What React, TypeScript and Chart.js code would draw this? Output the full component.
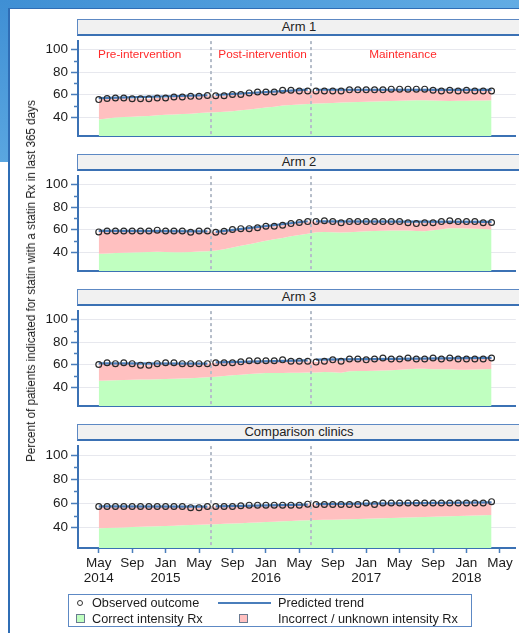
import React, { useEffect, useRef } from 'react';
import { Chart, registerables } from 'chart.js';

Chart.register(...registerables);

const FONT = "'Liberation Sans', Arial, Helvetica, sans-serif";
const NARROW_FONT = "'Liberation Sans Narrow', 'Arial Narrow', 'Liberation Sans', Arial, sans-serif";

// ---------- data ----------
const PANEL_TITLES = ['Arm 1', 'Arm 2', 'Arm 3', 'Comparison clinics'];

const X_TICKS = [0, 4, 8, 12, 16, 20, 24, 28, 32, 36, 40, 44, 48];
const X_TICK_LABELS = [
  ['May', '2014'], ['Sep'], ['Jan', '2015'], ['May'], ['Sep'], ['Jan', '2016'],
  ['May'], ['Sep'], ['Jan', '2017'], ['May'], ['Sep'], ['Jan', '2018'], ['May'],
];
const Y_TICKS = [40, 60, 80, 100];
const Y_MINOR_TICKS = [50, 70, 90];
const PHASE_BOUNDARIES = [13.4, 25.4];
const PHASE_LABELS = ['Pre-intervention', 'Post-intervention', 'Maintenance'];
const PHASE_LABEL_X = [4.9, 19.6, 36.4];
const SEGMENTS = [[0, 13], [14, 25], [26, 47]];

const ARM1_OBSERVED = [
  55.5, 56.5, 57, 57, 56.3, 56.3, 56.3, 57, 57, 57.8, 57.8, 58.4, 58.4, 59.2,
  59, 59, 60, 60, 61.5, 62.3, 62.3, 62.3, 63.8, 63.8, 63.2, 63.2,
  63.2, 63.2, 63.2, 63.2, 64.2, 64.2, 64.2, 64.2, 64.2, 64.8, 64.8, 64.8, 64.8, 64.8,
  63.8, 63.2, 63.8, 63.2, 63.8, 63.2, 63.2, 63.2,
];
const ARM1_CORRECT = [
  37.9, 38.8, 39.5, 40, 40.3, 40.6, 41, 41.5, 42, 42.3, 42.6, 43, 43.5, 44,
  44.2, 44.6, 45.2, 46, 46.8, 47.6, 48.4, 49.2, 50.2, 50.8, 51.2, 51.6,
  52, 52.3, 52.6, 52.9, 53.2, 53.4, 53.6, 53.8, 54, 54.3, 54.5, 54.8, 55, 55,
  54.8, 54.5, 54.3, 54.5, 54.6, 54.8, 54.8, 55,
];
const ARM1_TREND = [[56.8, 59.4], [59.6, 64.4], [64.3, 64.2]];

const ARM2_OBSERVED = [
  57.9, 58.7, 58.7, 58.7, 58.7, 58.7, 58.7, 59.5, 58.7, 58.7, 58.7, 57.6, 58.7, 58.7,
  57.6, 58.4, 60, 60.8, 60.8, 61.6, 62.9, 62.9, 63.9, 65.3, 66.3, 67.1,
  67.1, 67.9, 67.1, 66.1, 67.1, 67.1, 67.1, 67.1, 67.1, 67.1, 67.1, 66.1, 65.3, 66.1,
  66.1, 67.1, 67.9, 67.1, 67.1, 67.1, 66.1, 66.3,
];
const ARM2_CORRECT = [
  38.4, 38.8, 39.1, 39.3, 39.6, 39.8, 40, 40.3, 40, 39.8, 39.7, 40.1, 40.5, 40.8,
  41.3, 42.5, 44, 45.5, 47, 48.5, 50, 51.3, 52.6, 54, 55.2, 56.2,
  57.5, 57.9, 57.5, 57.3, 57.7, 58.1, 58.5, 58.7, 59, 59.1, 59.2, 59.2, 58.8, 58.6,
  59.4, 60.2, 61.2, 61.2, 61, 60.8, 60.5, 60,
];
const ARM2_TREND = [[58.8, 58.4], [58.0, 67.4], [67.3, 66.9]];

const ARM3_OBSERVED = [
  60, 61.6, 60.8, 61.6, 60.8, 59.5, 59.5, 60.8, 61.6, 61.6, 60.8, 60.8, 60.8, 60.8,
  61.6, 61.6, 61.6, 62.4, 63.4, 63.4, 63.4, 63.4, 64.2, 63, 63, 63,
  62.2, 63, 64.2, 63, 65, 65, 64.2, 65, 65.8, 65, 65, 65.8, 65, 65,
  65.8, 65, 65.8, 65, 65, 65, 65, 65.8,
];
const ARM3_CORRECT = [
  45.5, 45.8, 46, 46.2, 46.4, 46.6, 46.8, 47, 47.2, 47.4, 47.6, 47.9, 48.3, 48.7,
  49.2, 49.8, 50.4, 51, 51.5, 52, 52.4, 52.5, 52.6, 52.7, 52.8, 52.9,
  53, 53.4, 53.1, 52.8, 54, 54.2, 54.3, 54.5, 54.8, 55, 55.3, 55.8, 56.3, 56.2,
  55.8, 55.8, 55.8, 55.3, 55.4, 55.6, 55.8, 56,
];
const ARM3_TREND = [[61.0, 60.8], [62.0, 63.7], [64.4, 66.0]];

const ARM4_OBSERVED = [
  57.6, 57.6, 57.6, 57.6, 57.6, 57.6, 57.6, 57.6, 57.6, 57.6, 57.6, 56.6, 56.6, 57.6,
  57.6, 57.6, 57.6, 58.2, 58.7, 58.7, 58.7, 58.7, 58.7, 58.7, 58.7, 59.5,
  59.2, 59.2, 59.2, 59.2, 59.2, 59.2, 60.5, 59.2, 60.5, 60.5, 60.5, 60.5, 60.5, 60.5,
  60.5, 60.5, 60.5, 60.5, 60.5, 60.5, 60.5, 61.6,
];
const ARM4_CORRECT = [
  39.5, 39.7, 40.0, 40.2, 40.5, 40.7, 41.0, 41.2, 41.5, 41.7, 42.0, 42.2, 42.4, 42.6,
  42.9, 43.2, 43.5, 43.8, 44.1, 44.4, 44.7, 45.0, 45.3, 45.6, 45.9, 46.1,
  46.3, 46.5, 46.7, 46.9, 47.1, 47.3, 47.5, 47.7, 47.9, 48.1, 48.3, 48.5, 48.7, 48.9,
  49.1, 49.3, 49.5, 49.7, 49.9, 50.1, 50.3, 50.5,
];
const ARM4_TREND = [[57.6, 57.4], [57.6, 59.2], [59.5, 61.0]];

const OBSERVED = [ARM1_OBSERVED, ARM2_OBSERVED, ARM3_OBSERVED, ARM4_OBSERVED];
const CORRECT = [ARM1_CORRECT, ARM2_CORRECT, ARM3_CORRECT, ARM4_CORRECT];
const TRENDS = [ARM1_TREND, ARM2_TREND, ARM3_TREND, ARM4_TREND];

// ---------- style ----------
const GREEN = 'rgb(192,255,192)';
const PINK = 'rgb(255,192,192)';
const LINE_BLUE = '#4a7ebb';
const AXIS_BLUE = '#3b71b4';
const TEXT = '#1c1c1c';

const X_MIN = -2.48;
const X_MAX = 49.9;
const Y_MIN = 23.2;
const Y_MAX = 107.6;

const PANEL_STEP = 135;
const FIRST_HEADER_TOP = 19;
const HEADER_H = 17;
const PLOT_H = 107;
const PLOT_LEFT = 78;
const CANVAS_LEFT = 30;
const CANVAS_W = 491;

function trendPoints(trend: number[][]) {
  const pts: { x: number; y: number | null }[] = [];
  SEGMENTS.forEach((seg, s) => {
    if (s > 0) pts.push({ x: seg[0] - 0.5, y: null });
    pts.push({ x: seg[0], y: trend[s][0] });
    pts.push({ x: seg[1], y: trend[s][1] });
  });
  return pts;
}

function Panel({ index }: { index: number }) {
  const ref = useRef<HTMLCanvasElement | null>(null);
  const last = index === 3;
  const plotTop = FIRST_HEADER_TOP + HEADER_H + index * PANEL_STEP;
  const padTop = 6;
  const padBottom = last ? 2 : 4;
  const xH = last ? 50 : 0;
  const h = PLOT_H + padTop + padBottom + xH;

  useEffect(() => {
    const observed = OBSERVED[index];
    const correct = CORRECT[index];
    const deco = {
      id: 'deco' + index,
      afterDatasetDraw(chart: any, args: any) {
        if (args.index !== 1) return;
        const { ctx, chartArea } = chart;
        const xs = chart.scales.x;
        ctx.save();
        ctx.strokeStyle = '#b5bdc9';
        ctx.lineWidth = 2;
        ctx.setLineDash([3, 3]);
        PHASE_BOUNDARIES.forEach((b) => {
          const px = Math.round(xs.getPixelForValue(b));
          ctx.beginPath();
          ctx.moveTo(px, chartArea.top);
          ctx.lineTo(px, chartArea.bottom);
          ctx.stroke();
        });
        ctx.restore();
      },
      afterDraw(chart: any) {
        const { ctx } = chart;
        const ys = chart.scales.y;
        ctx.save();
        ctx.strokeStyle = LINE_BLUE;
        ctx.lineWidth = 1.5;
        Y_MINOR_TICKS.forEach((v) => {
          const py = Math.round(ys.getPixelForValue(v)) + 0.5;
          ctx.beginPath();
          ctx.moveTo(ys.right - 4, py);
          ctx.lineTo(ys.right, py);
          ctx.stroke();
        });
        if (index === 0) {
          const xs = chart.scales.x;
          ctx.fillStyle = '#ff2a2a';
          ctx.font = `11.8px ${FONT}`;
          ctx.textAlign = 'center';
          ctx.textBaseline = 'middle';
          PHASE_LABELS.forEach((t, i) => {
            ctx.fillText(t, xs.getPixelForValue(PHASE_LABEL_X[i]), ys.getPixelForValue(95.5));
          });
        }
        ctx.restore();
      },
    };

    const chart = new Chart(ref.current as HTMLCanvasElement, {
      type: 'line',
      data: {
        datasets: [
          {
            label: 'Correct intensity Rx',
            data: correct.map((v, i) => ({ x: i, y: v })),
            borderWidth: 0,
            pointRadius: 0,
            backgroundColor: GREEN,
            fill: 'origin',
            order: 3,
          },
          {
            label: 'Incorrect / unknown intensity Rx',
            data: observed.map((v, i) => ({ x: i, y: v })),
            borderWidth: 0,
            pointRadius: 0,
            backgroundColor: PINK,
            fill: '-1',
            order: 2,
          },
          {
            label: 'Predicted trend',
            data: trendPoints(TRENDS[index]),
            borderColor: LINE_BLUE,
            borderWidth: 2.2,
            pointRadius: 0,
            fill: false,
            spanGaps: false,
            order: 1,
          },
          {
            label: 'Observed outcome',
            data: observed.map((v, i) => ({ x: i, y: v })),
            showLine: false,
            pointRadius: 2.9,
            pointBorderWidth: 1.2,
            pointBorderColor: '#2a2a2a',
            pointBackgroundColor: 'rgba(0,0,0,0)',
            fill: false,
            order: 0,
          },
        ] as any,
      },
      options: {
        responsive: false,
        animation: false,
        devicePixelRatio: 1,
        layout: { padding: { left: 8, right: 0, top: padTop, bottom: padBottom } },
        plugins: { legend: { display: false }, tooltip: { enabled: false } },
        elements: { line: { tension: 0 } },
        scales: {
          x: {
            type: 'linear',
            min: X_MIN,
            max: X_MAX,
            afterBuildTicks: (s: any) => {
              s.ticks = X_TICKS.map((v) => ({ value: v }));
            },
            afterFit: (s: any) => {
              s.height = xH;
            },
            ticks: {
              display: last,
              autoSkip: false,
              maxRotation: 0,
              padding: 3,
              color: TEXT,
              font: { family: FONT, size: 13.5, lineHeight: 1.1 },
              callback: (v: any) => X_TICK_LABELS[X_TICKS.indexOf(v)] as any,
            },
            grid: {
              display: last,
              drawOnChartArea: false,
              drawTicks: true,
              tickLength: 5,
              tickColor: LINE_BLUE,
              tickWidth: 1.5,
            },
            border: { display: true, color: AXIS_BLUE, width: 2 },
          },
          y: {
            type: 'linear',
            min: Y_MIN,
            max: Y_MAX,
            afterBuildTicks: (s: any) => {
              s.ticks = Y_TICKS.map((v) => ({ value: v }));
            },
            afterFit: (s: any) => {
              s.width = PLOT_LEFT - CANVAS_LEFT - 8;
            },
            ticks: {
              padding: 3,
              color: TEXT,
              font: { family: FONT, size: 13.5 },
              callback: (v: any) => String(v),
            },
            grid: {
              color: '#e7e8ee',
              lineWidth: 1,
              tickLength: 7,
              tickColor: LINE_BLUE,
              tickWidth: 1.5,
            },
            border: { display: true, color: AXIS_BLUE, width: 2 },
          },
        },
      } as any,
      plugins: [deco],
    });
    return () => chart.destroy();
  }, [index]);

  return (
    <>
      <canvas
        ref={ref}
        width={CANVAS_W}
        height={h}
        style={{ position: 'absolute', left: CANVAS_LEFT, top: plotTop - padTop, width: CANVAS_W, height: h }}
      />
      <div
        style={{
          position: 'absolute',
          left: PLOT_LEFT - 1,
          top: FIRST_HEADER_TOP + index * PANEL_STEP,
          width: 519 - PLOT_LEFT + 6,
          height: HEADER_H,
          boxSizing: 'border-box',
          background: '#f1f1f1',
          borderTop: '1px solid #5d89c4',
          borderLeft: '1px solid #5d89c4',
          borderBottom: '2px solid #3b71b4',
          font: `13px ${FONT}`,
          color: '#222',
          lineHeight: '14px',
          textAlign: 'center',
          paddingRight: 4,
        }}
      >
        {PANEL_TITLES[index]}
      </div>
    </>
  );
}

function LegendSwatch({ color }: { color: string }) {
  return (
    <span
      style={{
        position: 'absolute',
        width: 9,
        height: 9,
        boxSizing: 'border-box',
        background: color,
        border: '1px solid #6a7a90',
      }}
    />
  );
}

export default function App() {
  const legendFont = `12.7px ${FONT}`;
  return (
    <div
      style={{
        position: 'fixed',
        left: 0,
        top: 0,
        width: 519,
        height: 633,
        overflow: 'hidden',
        background: '#ffffff',
      }}
    >
      {/* window frame / desktop background */}
      <div style={{ position: 'absolute', left: 0, top: 0, width: 519, height: 8, background: 'linear-gradient(to right, #3f8fd4, #62ace4)' }} />
      <div style={{ position: 'absolute', left: 0, top: 0, width: 8, height: 162, background: 'linear-gradient(to bottom, #3f8fd4, #5aa6e0)' }} />
      <div style={{ position: 'absolute', left: 8, top: 8, width: 511, height: 1, background: '#2f6db5' }} />
      <div style={{ position: 'absolute', left: 8, top: 8, width: 2, height: 625, background: '#2f6db5' }} />

      {[0, 1, 2, 3].map((i) => (
        <Panel key={i} index={i} />
      ))}

      {/* y-axis title */}
      <div
        style={{
          position: 'absolute',
          left: 31,
          top: 281,
          transform: 'translate(-50%, -50%) rotate(-90deg) scaleX(0.933)',
          whiteSpace: 'nowrap',
          font: `12.5px ${NARROW_FONT}`,
          color: TEXT,
        }}
      >
        Percent of patients indicated for statin with a statin Rx in last 365 days
      </div>

      {/* legend */}
      <div
        style={{
          position: 'absolute',
          left: 68,
          top: 594,
          width: 404,
          height: 33,
          boxSizing: 'border-box',
          border: '1px solid #5d89c4',
          font: legendFont,
          color: TEXT,
        }}
      >
        <span
          style={{
            position: 'absolute',
            left: 8,
            top: 5,
            width: 6,
            height: 6,
            boxSizing: 'border-box',
            borderRadius: '50%',
            border: '1px solid #333',
          }}
        />
        <span style={{ position: 'absolute', left: 23, top: 0, lineHeight: '16px' }}>Observed outcome</span>
        <span style={{ position: 'absolute', left: 149, top: 7, width: 53, height: 2, background: LINE_BLUE }} />
        <span style={{ position: 'absolute', left: 209, top: 0, lineHeight: '16px' }}>Predicted trend</span>
        <span style={{ position: 'absolute', left: 7, top: 19 }}>
          <LegendSwatch color={GREEN} />
        </span>
        <span style={{ position: 'absolute', left: 23, top: 16, lineHeight: '16px' }}>Correct intensity Rx</span>
        <span style={{ position: 'absolute', left: 170, top: 19 }}>
          <LegendSwatch color={PINK} />
        </span>
        <span style={{ position: 'absolute', left: 209, top: 16, lineHeight: '16px' }}>
          Incorrect / unknown intensity Rx
        </span>
      </div>
    </div>
  );
}
